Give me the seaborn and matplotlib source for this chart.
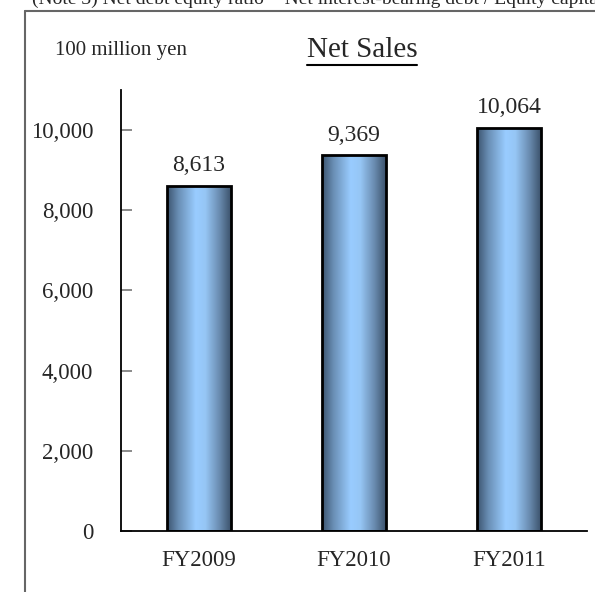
import matplotlib
matplotlib.use("Agg")
import matplotlib.pyplot as plt
import matplotlib.colors as mcolors
from matplotlib.lines import Line2D
import numpy as np
import pandas as pd
import seaborn as sns

# data
years = ["FY2009", "FY2010", "FY2011"]
sales = [8613, 9369, 10064]
yticks = [0, 2000, 4000, 6000, 8000, 10000]

sns.set_style("white")
plt.rcParams['font.family'] = ['Liberation Serif', 'DejaVu Serif']

df = pd.DataFrame({"year": years, "sales": sales})

fig = plt.figure(figsize=(5.95, 5.92), dpi=100)
ax = fig.add_axes([121/595, 61/592, 466/595, 441/592])

sns.barplot(data=df, x="year", y="sales", color="#99CCFF", width=0.41,
            edgecolor="black", linewidth=2, ax=ax)

# cylinder-like gradient inside each bar
cmap = mcolors.LinearSegmentedColormap.from_list(
    "cyl", [(0, "#3c546f"), (0.18, "#6a8fb5"), (0.45, "#99ccff"),
            (0.6, "#96c6f5"), (0.82, "#6a8cb0"), (1, "#3c536c")])
grad = np.linspace(0, 1, 256).reshape(1, -1)
for p in ax.patches:
    x0, y0 = p.get_x(), p.get_y()
    w, h = p.get_width(), p.get_height()
    im = ax.imshow(grad, cmap=cmap, aspect="auto",
                   extent=[x0, x0 + w, y0, y0 + h], zorder=p.get_zorder())
    im.set_clip_path(p)
    p.set_facecolor("none")
    p.set_zorder(3)

for i, v in enumerate(sales):
    ax.text(i, v + 230, f"{v:,}", ha="center", va="bottom", fontsize=17)

ax.set_xlim(-0.5, 2.5)
ax.set_ylim(0, 11000)
ax.set_yticks(yticks)
ax.set_yticklabels([f"{t:,}" for t in yticks], fontsize=16.5)
ax.set_xticks(range(len(years)))
ax.set_xticklabels(years, fontsize=16.5)
ax.set_xlabel("")
ax.set_ylabel("")
ax.tick_params(axis="x", length=0, pad=14)
ax.set_xticks([-0.5, 0.5, 1.5, 2.5], minor=True)
ax.tick_params(axis="x", which="minor", direction="in", length=7, color="#888888", width=1)
ax.tick_params(axis="y", direction="in", length=8, color="#777777", width=1.2, pad=20, left=True)
for s in ["top", "right"]:
    ax.spines[s].set_visible(False)
for s in ["left", "bottom"]:
    ax.spines[s].set_color("black")
    ax.spines[s].set_linewidth(1.3)

# outer frame (left and top edges only are visible)
fig.add_artist(Line2D([25/595, 25/595], [0, 1 - 11/592], color="#666666", lw=1.5))
fig.add_artist(Line2D([25/595, 1], [1 - 11/592, 1 - 11/592], color="#666666", lw=1.5))

# note line above the frame, cut off by the top edge as in the source
fig.text(32/595, 1 - 4/592, "(Note 3) Net debt equity ratio = Net interest-bearing debt / Equity capital",
         fontsize=14, va="baseline", ha="left")
fig.text(55/595, 1 - 55/592, "100 million yen", fontsize=15, va="baseline", ha="left")
title = fig.text(362/595, 1 - 57/592, "Net Sales", fontsize=21, va="baseline", ha="center")

fig.canvas.draw()
bb = title.get_window_extent().transformed(fig.transFigure.inverted())
fig.add_artist(Line2D([bb.x0, bb.x1], [bb.y0 - 2/592] * 2, color="black", lw=1.5))

fig.savefig("out.png", dpi=100)
